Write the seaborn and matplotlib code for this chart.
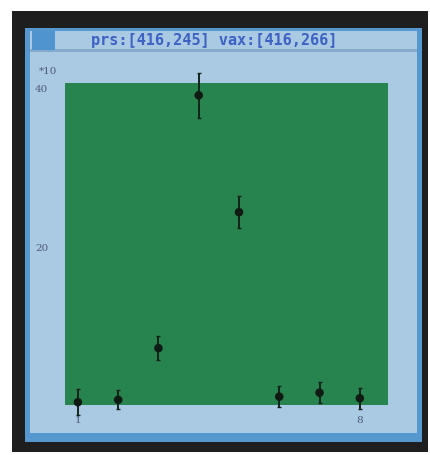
import matplotlib
matplotlib.use("Agg")
import matplotlib.pyplot as plt
from matplotlib.patches import Rectangle
import seaborn as sns
import pandas as pd

# data
x_vals = [1, 2, 3, 4, 5, 6, 7, 8]
y_vals = [0.6, 0.9, 7.4, 39.2, 24.5, 1.3, 1.8, 1.1]
y_err = [1.6, 1.2, 1.5, 2.8, 2.0, 1.3, 1.3, 1.3]
x_ticks = [1, 8]
x_tick_labels = ["1", "8"]
y_ticks = [20, 40]
y_tick_labels = ["20", "40"]
title_text = "prs:[416,245] vax:[416,266]"
multiplier_text = "*10"

df = pd.DataFrame({"x": x_vals, "y": y_vals, "err": y_err})

W, H = 430, 455
sns.set_style("white")
plt.rcParams["font.family"] = ["DejaVu Serif"]
fig = plt.figure(figsize=(W / 100, H / 100), dpi=100)
fig.patch.set_facecolor("white")


def rect(x0, y0, x1, y1, color, z=0):
    r = Rectangle((x0 / W, 1 - y1 / H), (x1 - x0) / W, (y1 - y0) / H,
                  transform=fig.transFigure, facecolor=color, edgecolor="none",
                  zorder=z)
    fig.add_artist(r)


# monitor / window frame
rect(12, 11, 428, 452, "#1e1e1e", z=-10)
rect(25, 28, 422, 442, "#5597cf", z=-9)
rect(30, 31, 417, 433, "#aac9e2", z=-8)
rect(30, 49, 417, 52, "#86aacb", z=-7)
rect(32, 31, 55, 50, "#4f93cf", z=-7)

fig.text(214 / W, 1 - 40 / H, title_text, color="#3b62c4", fontsize=11,
         fontweight="bold", family="DejaVu Sans Mono", ha="center", va="center")

ax = fig.add_axes([65 / W, 1 - 405 / H, 323 / W, 322 / H])
ax.set_facecolor("#28844f")
ax.errorbar(df["x"], df["y"], yerr=df["err"], fmt="none", ecolor="#14231a",
            elinewidth=1.4, capsize=1.5, capthick=1.0, zorder=3, clip_on=False)
sns.scatterplot(data=df, x="x", y="y", ax=ax, color="#101a14", s=38,
                edgecolor="none", zorder=4, clip_on=False)
ax.set_xlim(0.68, 8.7)
ax.set_ylim(0.25, 40.75)
ax.set_xticks(x_ticks)
ax.set_xticklabels(x_tick_labels)
ax.set_yticks(y_ticks)
ax.set_yticklabels(y_tick_labels)
ax.tick_params(axis="both", length=0, labelsize=7.5, labelcolor="#505a78")
ax.tick_params(axis="y", pad=12)
ax.tick_params(axis="x", pad=8)
ax.set_xlabel("")
ax.set_ylabel("")
for s in ax.spines.values():
    s.set_visible(False)
fig.text(48 / W, 1 - 71 / H, multiplier_text, color="#505a78", fontsize=7.5,
         ha="center", va="center")

fig.savefig("out.png", dpi=100, facecolor="white")
